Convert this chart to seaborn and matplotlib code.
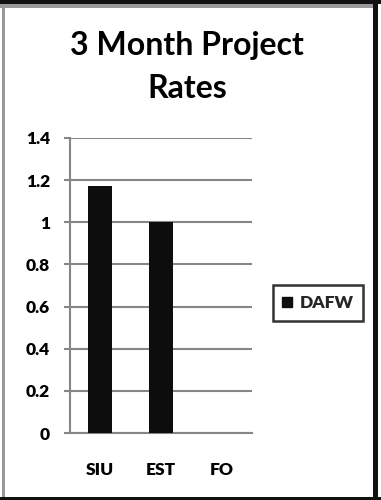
import matplotlib
matplotlib.use("Agg")
import matplotlib.pyplot as plt
import seaborn as sns
import pandas as pd
from matplotlib.patches import Rectangle, Patch

categories = ["SIU", "EST", "FO"]
values = [1.17, 1.0, 0.0]
series_name = "DAFW"
yticks = [0, 0.2, 0.4, 0.6, 0.8, 1.0, 1.2, 1.4]
ytick_labels = ["0", "0.2", "0.4", "0.6", "0.8", "1", "1.2", "1.4"]
title_lines = ["3 Month Project", "Rates"]

sns.set_theme(style="white")
plt.rcParams["font.family"] = ["Lato", "DejaVu Sans"]

W, H = 381, 500
fig = plt.figure(figsize=(W / 100, H / 100), dpi=100)
fig.patch.set_facecolor("white")

ax = fig.add_axes([70 / W, 1 - 433 / H, (252 - 70) / W, (433 - 138) / H])
df = pd.DataFrame({"cat": categories, "val": values})
sns.barplot(data=df, x="cat", y="val", color="#0d0d0d", width=0.4, ax=ax,
            saturation=1, linewidth=0, zorder=3)
ax.set_xlim(-0.5, 2.5)
ax.set_ylim(0, 1.4)
ax.set_xlabel("")
ax.set_ylabel("")
ax.set_yticks(yticks)
ax.set_yticklabels(ytick_labels, fontsize=12.5, fontweight="heavy", color="black")
ax.set_xticks(range(len(categories)))
ax.set_xticklabels(categories, fontsize=12.5, fontweight="heavy", color="black")
ax.set_xticks([-0.5, 0.5, 1.5, 2.5], minor=True)
ax.tick_params(axis="x", which="major", length=0, pad=21)
ax.tick_params(axis="x", which="minor", length=4, width=1.5, color="#868686", direction="out")
ax.tick_params(axis="y", which="major", length=4.5, width=1.5, color="#868686", direction="out", pad=10, left=True)
ax.yaxis.grid(True, color="#868686", linewidth=1.5, zorder=0)
ax.xaxis.grid(False)
for s in ["top", "right"]:
    ax.spines[s].set_visible(False)
for s in ["left", "bottom"]:
    ax.spines[s].set_color("#868686")
    ax.spines[s].set_linewidth(1.5)
ax.set_facecolor("white")

fig.text(187 / W, 1 - 46 / H, title_lines[0], ha="center", va="center",
         fontsize=23, fontweight="bold", color="black")
fig.text(187 / W, 1 - 89 / H, title_lines[1], ha="center", va="center",
         fontsize=23, fontweight="bold", color="black")

handles = [Patch(facecolor="#0d0d0d", edgecolor="#0d0d0d", label=series_name)]
leg = fig.legend(handles=handles, loc="center", bbox_to_anchor=(318 / W, 1 - 303 / H),
                 frameon=True, fancybox=False, handlelength=0.55, handleheight=0.55,
                 handletextpad=0.45, borderpad=0.55, borderaxespad=0,
                 prop={"weight": "heavy", "size": 12.5})
leg.get_frame().set_edgecolor("black")
leg.get_frame().set_linewidth(1.8)

def px_rect(x0, y0, x1, y1, color):
    fig.patches.append(Rectangle((x0 / W, 1 - y1 / H), (x1 - x0) / W, (y1 - y0) / H,
                                 transform=fig.transFigure, facecolor=color, edgecolor="none",
                                 zorder=10))

px_rect(0, 0, W, 4, "#111111")
px_rect(0, 4, 373, 8, "#9a9a9a")
px_rect(2, 8, 5, 497, "#9a9a9a")
px_rect(373, 0, 378, H, "#111111")
px_rect(0, 497, W, H, "#111111")

fig.savefig("out.png", dpi=100, facecolor="white")
